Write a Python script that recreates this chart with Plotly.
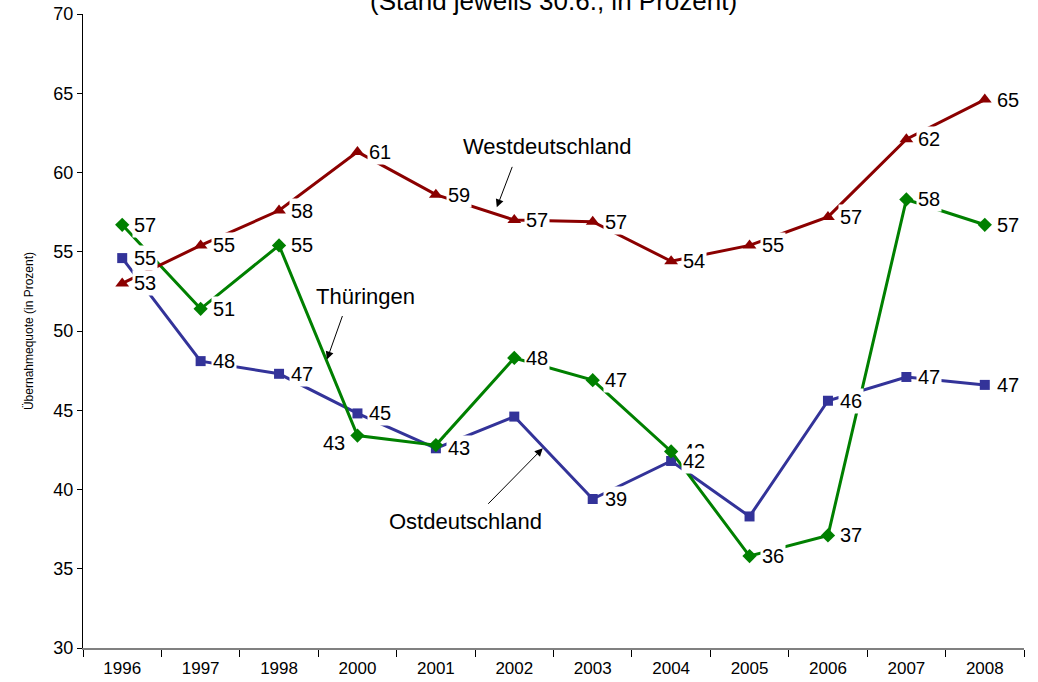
import plotly.graph_objects as go

years = ["1996", "1997", "1998", "2000", "2001", "2002", "2003", "2004", "2005", "2006", "2007", "2008"]
west = [53.0, 55.4, 57.6, 61.3, 58.6, 57.0, 56.9, 54.4, 55.4, 57.2, 62.1, 64.6]
thueringen = [56.7, 51.4, 55.4, 43.4, 42.8, 48.3, 46.9, 42.4, 35.8, 37.1, 58.3, 56.7]
ost = [54.6, 48.1, 47.3, 44.8, 42.6, 44.6, 39.4, 41.8, 38.3, 45.6, 47.1, 46.6]

# which data labels are shown (Excel chart had some removed)
thu_hidden = {"2001"}
ost_hidden = {"2002", "2005"}
thu_left = {"2000"}

FONT = "Liberation Sans, Arial, sans-serif"
c_west = "#8B0000"
c_thu = "#008000"
c_ost = "#333399"

fig = go.Figure()
fig.add_trace(go.Scatter(x=years, y=ost, mode="lines+markers", name="Ostdeutschland",
                         line=dict(color=c_ost, width=3),
                         marker=dict(symbol="square", size=10, color=c_ost)))
fig.add_trace(go.Scatter(x=years, y=thueringen, mode="lines+markers", name="Thüringen",
                         line=dict(color=c_thu, width=3),
                         marker=dict(symbol="diamond", size=11, color=c_thu)))
fig.add_trace(go.Scatter(x=years, y=west, mode="lines+markers", name="Westdeutschland",
                         line=dict(color=c_west, width=3),
                         marker=dict(symbol="triangle-up", size=12, color=c_west)))

annots = []

def label(i, v, left=False, yshift=0):
    annots.append(dict(
        x=i, y=v, xref="x", yref="y", text=str(int(round(v))), showarrow=False,
        xanchor="right" if left else "left", xshift=-10 if left else 10, yshift=yshift,
        font=dict(family=FONT, size=20, color="black"),
        bgcolor="white", borderpad=1))

for i, (x, v) in enumerate(zip(years, west)):
    label(i, v)
for i, (x, v) in enumerate(zip(years, thueringen)):
    if x in thu_hidden:
        continue
    label(i, v, left=(x in thu_left), yshift=-7 if x in thu_left else 0)
for i, (x, v) in enumerate(zip(years, ost)):
    if x in ost_hidden:
        continue
    label(i, v)

# series name callouts with arrows
callouts = [
    ("Westdeutschland", 5.414, 61.67, 4.777, 57.8, 16, -42),
    ("Thüringen", 3.108, 52.2, 2.611, 48.2, 16, -45),
    ("Ostdeutschland", 4.382, 38.0, 5.363, 42.6, -56, 57),
]
for txt, tx, ty, px, py, ax, ay in callouts:
    annots.append(dict(x=tx, y=ty, xref="x", yref="y", text=txt, showarrow=False,
                       font=dict(family=FONT, size=22, color="black"),
                       bgcolor="white", borderpad=0))
    annots.append(dict(x=px, y=py, xref="x", yref="y", text="", showarrow=True,
                       ax=ax, ay=ay, arrowhead=2, arrowsize=1.6, arrowwidth=1,
                       arrowcolor="black"))

annots.append(dict(x=0.5, y=0.994, xref="paper", yref="paper", yanchor="bottom",
                   text="(Stand jeweils 30.6., in Prozent)", showarrow=False,
                   font=dict(family=FONT, size=26, color="black")))

fig.update_layout(
    width=1038, height=682,
    margin=dict(l=83, r=14, t=14, b=34),
    paper_bgcolor="white", plot_bgcolor="white",
    showlegend=False,
    annotations=annots,
    font=dict(family=FONT, color="black"),
)
fig.update_xaxes(type="category", range=[-0.5, 11.5], tickson="boundaries",
                 ticks="outside", ticklen=7, tickcolor="black", tickwidth=1,
                 showline=True, linecolor="#808080", linewidth=2, automargin=False,
                 showgrid=False, tickfont=dict(family=FONT, size=17),
                 ticklabelstandoff=4)
fig.update_yaxes(range=[30, 70], dtick=5, ticks="outside", ticklen=5, automargin=False,
                 tickcolor="black", showline=True, linecolor="black", linewidth=1,
                 showgrid=False, zeroline=False, tickfont=dict(family=FONT, size=18),
                 title=dict(text="Übernahmequote (in Prozent)",
                            font=dict(family=FONT, size=12), standoff=17))

fig.write_html("out.html", config={"displayModeBar": False},
               post_script="document.body.style.margin='0';document.body.style.overflow='hidden';")
